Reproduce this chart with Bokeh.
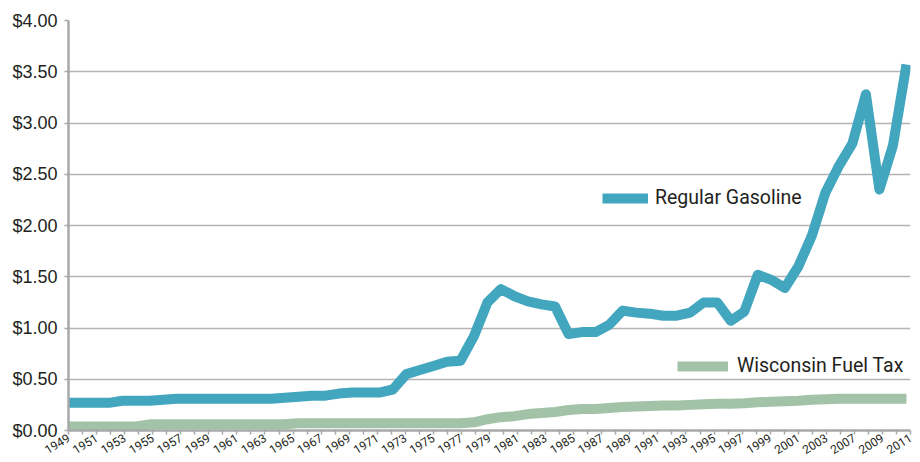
import math
from bokeh.plotting import figure
from bokeh.models import (Range1d, FixedTicker, CustomJSTickFormatter, Legend, LegendItem,
                          NumeralTickFormatter)
from bokeh.embed import file_html
from bokeh.resources import INLINE

years = [1949, 1950, 1951, 1952, 1953, 1954, 1955, 1956, 1957, 1958,
         1959, 1960, 1961, 1962, 1963, 1964, 1965, 1966, 1967, 1968,
         1969, 1970, 1971, 1972, 1973, 1974, 1975, 1976, 1977, 1978,
         1979, 1980, 1981, 1982, 1983, 1984, 1985, 1986, 1987, 1988,
         1989, 1990, 1991, 1992, 1993, 1994, 1995, 1996, 1997, 1998,
         1999, 2000, 2001, 2002, 2003, 2004, 2005, 2006, 2007, 2008,
         2009, 2010, 2011]

regular_gasoline = [0.27, 0.27, 0.27, 0.27, 0.29, 0.29, 0.29, 0.30, 0.31, 0.31,
                    0.31, 0.31, 0.31, 0.31, 0.31, 0.31, 0.32, 0.33, 0.34, 0.34,
                    0.36, 0.37, 0.37, 0.37, 0.40, 0.55, 0.59, 0.63, 0.67, 0.68,
                    0.92, 1.25, 1.38, 1.31, 1.26, 1.23, 1.21, 0.94, 0.96, 0.96,
                    1.03, 1.17, 1.15, 1.14, 1.12, 1.12, 1.15, 1.25, 1.25, 1.07,
                    1.16, 1.52, 1.47, 1.39, 1.60, 1.90, 2.32, 2.58, 2.80, 3.28,
                    2.35, 2.78, 3.57]

wisconsin_fuel_tax = [0.04, 0.04, 0.04, 0.04, 0.04, 0.04, 0.06, 0.06, 0.06, 0.06,
                      0.06, 0.06, 0.06, 0.06, 0.06, 0.06, 0.06, 0.07, 0.07, 0.07,
                      0.07, 0.07, 0.07, 0.07, 0.07, 0.07, 0.07, 0.07, 0.07, 0.07,
                      0.08, 0.11, 0.13, 0.14, 0.16, 0.17, 0.18, 0.20, 0.21, 0.21,
                      0.22, 0.23, 0.235, 0.24, 0.245, 0.245, 0.25, 0.255, 0.26, 0.26,
                      0.265, 0.275, 0.28, 0.285, 0.29, 0.30, 0.305, 0.31, 0.31, 0.31,
                      0.31, 0.31, 0.31]

x_tick_labels = ["1949", "1951", "1953", "1955", "1957", "1959", "1961", "1963",
                 "1965", "1967", "1969", "1971", "1973", "1975", "1977", "1979",
                 "1981", "1983", "1985", "1987", "1989", "1991", "1993", "1995",
                 "1997", "1999", "2001", "2003", "2007", "2009", "2011"]

y_ticks = [0.0, 0.5, 1.0, 1.5, 2.0, 2.5, 3.0, 3.5, 4.0]

GAS_COLOR = "#43a6bf"
TAX_COLOR = "#a3c3a8"
AXIS_COLOR = "#a7a8aa"
GRID_COLOR = "#b4b4b4"
TEXT_COLOR = "#231f20"
NARROW = "Roboto"

x0 = years[0]
x_end = years[-1] + 0.3   # the last point sits just inside the right edge

p = figure(width=920, height=461, output_backend="svg", toolbar_location=None,
           x_range=Range1d(x0, x_end), y_range=Range1d(0, 4),
           min_border_left=68, min_border_right=10, min_border_top=20, min_border_bottom=0)
p.outline_line_color = None
p.background_fill_color = None
p.border_fill_color = None

r_tax = p.line(years, wisconsin_fuel_tax, line_color=TAX_COLOR, line_width=10,
               line_join="round")
r_gas = p.line(years, regular_gasoline, line_color=GAS_COLOR, line_width=10,
               line_join="round")

# x axis: evenly spaced category ticks across the frame, labels on every other tick
n_ticks = 2 * len(x_tick_labels) - 1
step = (x_end - x0) / (n_ticks - 1)
major = [x0 + k * step for k in range(0, n_ticks, 2)]
minor = [x0 + k * step for k in range(1, n_ticks, 2)]
xa = p.xaxis[0]
xa.ticker = FixedTicker(ticks=major, minor_ticks=minor)
xa.formatter = CustomJSTickFormatter(args=dict(labels=x_tick_labels, x0=x0, step=step), code="""
    const k = Math.round((tick - x0) / step / 2);
    return labels[k] === undefined ? "" : labels[k];
""")
xa.major_label_orientation = math.radians(32)
xa.major_label_text_font = NARROW
xa.major_label_text_font_size = "12px"
xa.major_label_text_color = TEXT_COLOR
xa.major_label_standoff = 2
xa.axis_line_color = AXIS_COLOR
xa.axis_line_width = 2.5
xa.major_tick_line_color = AXIS_COLOR
xa.minor_tick_line_color = AXIS_COLOR
xa.major_tick_line_width = 1.5
xa.minor_tick_line_width = 1.5
xa.major_tick_out = 4
xa.major_tick_in = 0
xa.minor_tick_out = 4
xa.minor_tick_in = 0

ya = p.yaxis[0]
ya.ticker = FixedTicker(ticks=y_ticks, minor_ticks=[])
ya.formatter = NumeralTickFormatter(format="$0.00")
ya.major_label_text_font = "Liberation Sans"
ya.major_label_text_font_size = "18px"
ya.major_label_text_color = TEXT_COLOR
ya.major_label_standoff = 7
ya.axis_line_color = AXIS_COLOR
ya.axis_line_width = 2.5
ya.major_tick_line_color = AXIS_COLOR
ya.major_tick_line_width = 1.5
ya.major_tick_out = 4
ya.major_tick_in = 0
ya.minor_tick_line_color = None

p.xgrid.grid_line_color = None
p.ygrid.ticker = FixedTicker(ticks=y_ticks)
p.ygrid.grid_line_color = GRID_COLOR
p.ygrid.grid_line_width = 1.5

def make_legend(label, renderer, loc, glyph_w, standoff):
    leg = Legend(items=[LegendItem(label=label, renderers=[renderer])], location=loc,
                 glyph_width=glyph_w, glyph_height=20, label_height=20,
                 label_standoff=standoff, padding=0, margin=0, spacing=0,
                 border_line_color=None, background_fill_alpha=0,
                 label_text_font=NARROW, label_text_font_size="19.5px",
                 label_text_color=TEXT_COLOR)
    return leg

p.add_layout(make_legend("Regular Gasoline", r_gas, (534, 221), 46, 7))
p.add_layout(make_legend("Wisconsin Fuel Tax", r_tax, (609, 53), 51, 9))

open("out.html", "w").write(file_html(p, INLINE))
